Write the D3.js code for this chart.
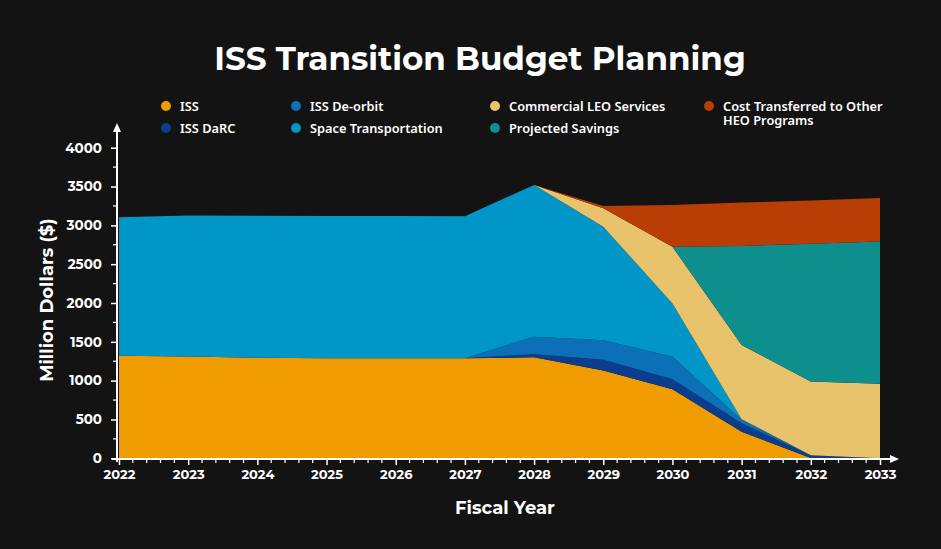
<!DOCTYPE html>
<html>
<head>
<meta charset="utf-8">
<script src="https://cdn.jsdelivr.net/npm/d3@7/dist/d3.min.js"></script>
<style>
  html, body { margin: 0; padding: 0; background: #131313; }
  svg { display: block; }
</style>
</head>
<body>
<svg id="chart" width="941" height="549"></svg>
<script>
// ---- data ----
const years = [2022, 2023, 2024, 2025, 2026, 2027, 2028, 2029, 2030, 2031, 2032, 2033];
const iss            = [1320, 1310, 1295, 1290, 1290, 1290, 1300, 1130, 890, 343, 5, 0];
const issDarc        = [0, 0, 0, 0, 0, 0, 40, 140, 128, 108, 30, 0];
const issDeorbit     = [0, 0, 0, 0, 0, 0, 226, 250, 290, 42, 5, 0];
const spaceTransport = [1784, 1818, 1830, 1832, 1832, 1828, 1954, 1463, 687, 10, 0, 0];
const commercialLEO  = [0, 0, 0, 0, 0, 0, 0, 237, 729, 957, 950, 960];
const savings        = [0, 0, 0, 0, 0, 0, 0, 0, 0, 1275, 1773, 1833];
const costTransfer   = [0, 0, 0, 0, 0, 0, 0, 30, 538, 558, 558, 558];
const yTicks = [0, 500, 1000, 1500, 2000, 2500, 3000, 3500, 4000];

const seriesDefs = [
  { key: "iss",  name: "ISS",                     values: iss,            color: "#f09c00" },
  { key: "darc", name: "ISS DaRC",                values: issDarc,        color: "#0b3c8e" },
  { key: "deo",  name: "ISS De-orbit",            values: issDeorbit,     color: "#0b70b6" },
  { key: "st",   name: "Space Transportation",    values: spaceTransport, color: "#0096c8" },
  { key: "leo",  name: "Commercial LEO Services", values: commercialLEO,  color: "#e8c36c" },
  { key: "sav",  name: "Projected Savings",       values: savings,        color: "#0f8e8e" },
  { key: "cost", name: "Cost Transferred to Other HEO Programs", values: costTransfer, color: "#b83e05" }
];

const table = years.map((y, i) => {
  const row = { year: y };
  seriesDefs.forEach(s => row[s.key] = s.values[i]);
  return row;
});

const svg = d3.select("#chart");
const W = 941, H = 549;
svg.append("rect").attr("width", W).attr("height", H).attr("fill", "#131313");

const x = d3.scaleLinear().domain([2022, 2033]).range([119, 880]);
const y = d3.scaleLinear().domain([0, 4000]).range([458.3, 147.7]);

const stack = d3.stack().keys(seriesDefs.map(s => s.key));
const stacked = stack(table);

const area = d3.area()
  .x(d => x(d.data.year))
  .y0(d => y(d[0]))
  .y1(d => y(d[1]));

svg.append("g").selectAll("path")
  .data(stacked)
  .join("path")
  .attr("d", area)
  .attr("fill", (d, i) => seriesDefs[i].color);

const font = "Montserrat, 'Open Sans', 'Noto Sans', sans-serif";
const axisColor = "#ffffff";

// x axis
const xAxisY = 459;
const xAxis = d3.axisBottom(x)
  .tickValues(years)
  .tickFormat(d3.format("d"))
  .tickSize(6)
  .tickPadding(5);
const gx = svg.append("g").attr("transform", `translate(0,${xAxisY})`).call(xAxis);
gx.select(".domain").remove();
gx.selectAll(".tick line").attr("stroke", axisColor).attr("stroke-width", 1.5);
gx.selectAll(".tick text").attr("fill", "#fff").attr("font-family", font)
  .attr("font-weight", 700).attr("font-size", 13);
// minor x ticks
const minorX = d3.range(2022, 2033.001, 0.2).filter(v => Math.abs(v - Math.round(v)) > 0.01);
svg.append("g").selectAll("line").data(minorX).join("line")
  .attr("x1", d => x(d)).attr("x2", d => x(d))
  .attr("y1", xAxisY).attr("y2", xAxisY + 4)
  .attr("stroke", axisColor).attr("stroke-width", 1.2);
svg.append("line").attr("x1", 112).attr("x2", 893).attr("y1", xAxisY).attr("y2", xAxisY)
  .attr("stroke", axisColor).attr("stroke-width", 2);
svg.append("path").attr("d", `M899,${xAxisY} L890,${xAxisY - 4} L890,${xAxisY + 4} Z`).attr("fill", axisColor);

// y axis
const yAxisX = 117;
const yAxis = d3.axisLeft(y).tickValues(yTicks).tickFormat(d3.format("d")).tickSize(6).tickPadding(9);
const gy = svg.append("g").attr("transform", `translate(${yAxisX},0)`).call(yAxis);
gy.select(".domain").remove();
gy.selectAll(".tick line").attr("stroke", axisColor).attr("stroke-width", 1.5);
gy.selectAll(".tick text").attr("fill", "#fff").attr("font-family", font)
  .attr("font-weight", 700).attr("font-size", 13.5);
const minorY = d3.range(250, 4001, 500);
svg.append("g").selectAll("line").data(minorY).join("line")
  .attr("x1", yAxisX - 4).attr("x2", yAxisX)
  .attr("y1", d => y(d)).attr("y2", d => y(d))
  .attr("stroke", axisColor).attr("stroke-width", 1.2);
svg.append("line").attr("x1", yAxisX).attr("x2", yAxisX).attr("y1", 462).attr("y2", 130)
  .attr("stroke", axisColor).attr("stroke-width", 2);
svg.append("path").attr("d", `M${yAxisX},123 L${yAxisX - 4},132 L${yAxisX + 4},132 Z`).attr("fill", axisColor);

// titles
svg.append("text").attr("x", 480).attr("y", 70).attr("text-anchor", "middle")
  .attr("fill", "#fff").attr("font-family", font).attr("font-weight", 700)
  .attr("font-size", 32.6).text("ISS Transition Budget Planning");
svg.append("text").attr("x", 505).attr("y", 514).attr("text-anchor", "middle")
  .attr("fill", "#fff").attr("font-family", font).attr("font-weight", 700)
  .attr("font-size", 18).text("Fiscal Year");
svg.append("text").attr("transform", "translate(53,300) rotate(-90)").attr("text-anchor", "middle")
  .attr("fill", "#fff").attr("font-family", font).attr("font-weight", 700)
  .attr("font-size", 18).text("Million Dollars ($)");

// legend
const legendPos = [
  { key: "iss",  cx: 166, cy: 106 },
  { key: "darc", cx: 166, cy: 128 },
  { key: "deo",  cx: 296, cy: 106 },
  { key: "st",   cx: 296, cy: 128 },
  { key: "leo",  cx: 495, cy: 106 },
  { key: "sav",  cx: 495, cy: 128 },
  { key: "cost", cx: 709, cy: 106 }
];
const lg = svg.append("g");
legendPos.forEach(p => {
  const s = seriesDefs.find(d => d.key === p.key);
  lg.append("circle").attr("cx", p.cx).attr("cy", p.cy).attr("r", 5).attr("fill", s.color);
  const attrs = t => t.attr("fill", "#fff").attr("font-family", "'Noto Sans', sans-serif")
    .attr("font-weight", 600).attr("font-size", 12.8);
  if (p.key === "cost") {
    attrs(lg.append("text").attr("x", p.cx + 14).attr("y", p.cy + 4.5)).text("Cost Transferred to Other");
    attrs(lg.append("text").attr("x", p.cx + 14).attr("y", p.cy + 18.5)).text("HEO Programs");
  } else {
    attrs(lg.append("text").attr("x", p.cx + 14).attr("y", p.cy + 4.5)).text(s.name);
  }
});
</script>
</body>
</html>
